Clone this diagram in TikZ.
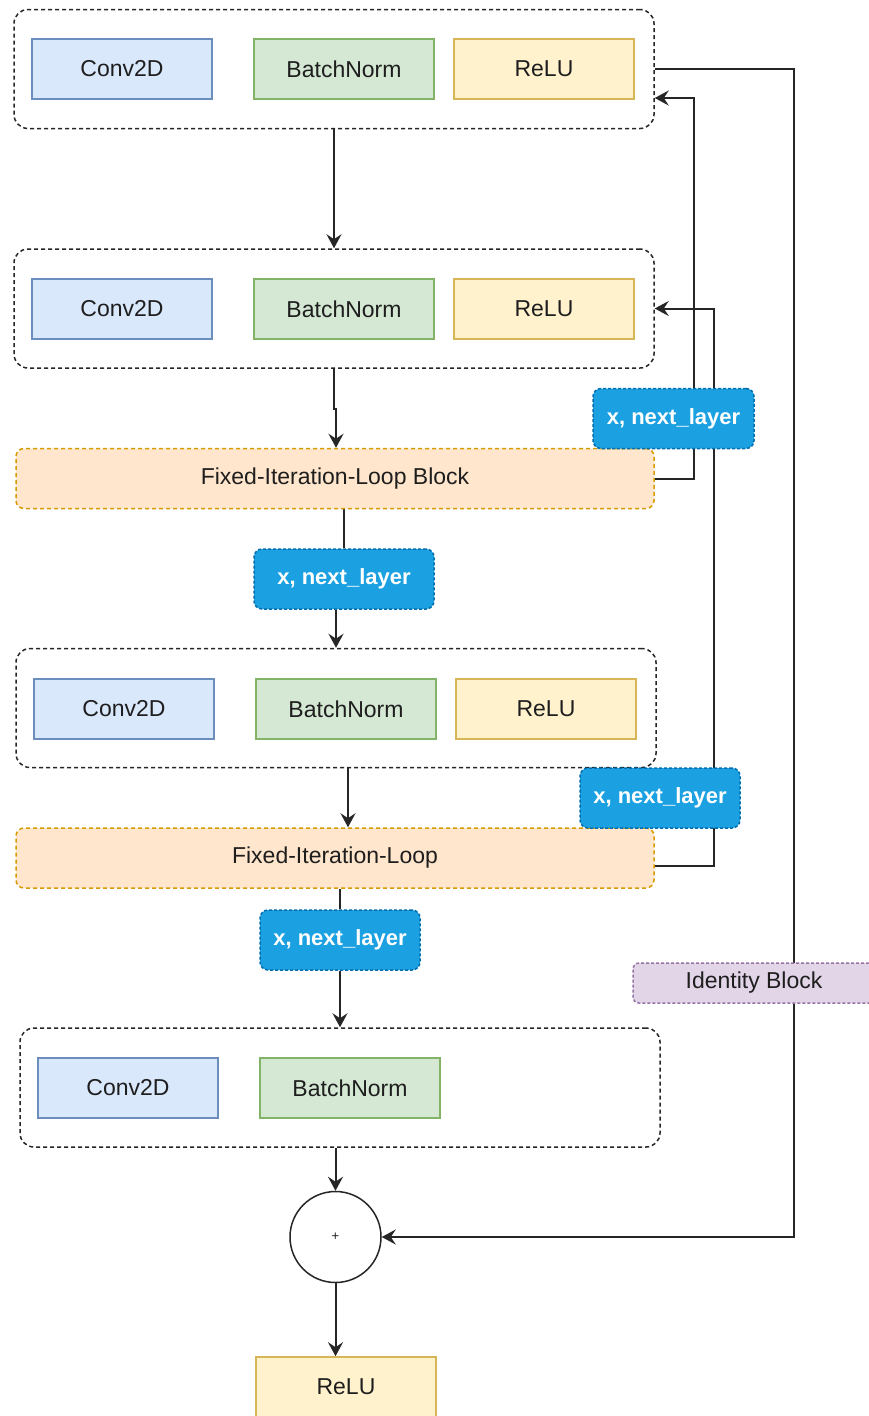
\documentclass[tikz,border=0pt]{standalone}
\usepackage{fontspec}
\setmainfont{Liberation Sans}
\usetikzlibrary{arrows.meta,calc}
\pgfdeclarelayer{bg}
\pgfdeclarelayer{paper}
\pgfsetlayers{paper,bg,main}
\definecolor{txt}{HTML}{1E1E1E}
\definecolor{convF}{HTML}{DAE8FC}\definecolor{convD}{HTML}{6C8EBF}
\definecolor{bnF}{HTML}{D5E8D4}\definecolor{bnD}{HTML}{82B366}
\definecolor{reF}{HTML}{FFF2CC}\definecolor{reD}{HTML}{D6B656}
\definecolor{filF}{HTML}{FFE6CC}\definecolor{filD}{HTML}{D79B00}
\definecolor{xnF}{HTML}{1BA1E2}\definecolor{xnD}{HTML}{006EAF}
\definecolor{idF}{HTML}{E1D5E7}\definecolor{idD}{HTML}{9673A6}
\tikzset{
  lay/.style={draw, line width=1.6pt, minimum width=180pt, minimum height=60pt, inner sep=0pt, font=\fontsize{23}{26}\selectfont, text=txt},
  conv/.style={lay, fill=convF, draw=convD},
  bn/.style={lay, fill=bnF, draw=bnD},
  relu/.style={lay, fill=reF, draw=reD},
  cont/.style={draw=black!85, line width=1.5pt, dash pattern=on 4pt off 3pt, rounded corners=14pt, minimum width=640pt, minimum height=119pt, inner sep=0pt},
  filbox/.style={draw=filD, fill=filF, line width=1.5pt, dash pattern=on 4pt off 3pt, rounded corners=8pt, minimum width=638pt, minimum height=60pt, inner sep=0pt, font=\fontsize{23}{26}\selectfont, text=txt},
  xn/.style={draw=xnD, fill=xnF, line width=1.5pt, dash pattern=on 3pt off 2pt, rounded corners=8pt, minimum height=60pt, inner sep=0pt, font=\bfseries\fontsize{22}{26}\selectfont, text=white},
  idbox/.style={draw=idD, fill=idF, line width=1.5pt, dash pattern=on 3pt off 2pt, rounded corners=6pt, minimum width=242pt, minimum height=40pt, inner sep=0pt, font=\fontsize{23}{26}\selectfont, text=txt},
  conn/.style={draw=black!85, line width=2pt},
  arr/.style={conn, -{Stealth[length=14pt,width=15pt,inset=5pt]}},
}
\begin{document}
\begin{tikzpicture}[x=1pt,y=-1pt]
\begin{pgfonlayer}{paper}
\fill[white] (0,0) rectangle (869,1416);
\end{pgfonlayer}
\useasboundingbox (0,0) rectangle (869,1416);
% block 1
\node[cont] (c1) at (334,69) {};
\node[conv] (cv1) at (122,69) {Conv2D};
\node[bn] (bn1) at (344,69) {BatchNorm};
\node[relu] (re1) at (544,69) {ReLU};
% block 2
\node[cont] (c2) at (334,308.5) {};
\node[conv] (cv2) at (122,309) {Conv2D};
\node[bn] (bn2) at (344,309) {BatchNorm};
\node[relu] (re2) at (544,309) {ReLU};
% loop 1
\node[filbox] (fil1) at (335,478.5) {Fixed-Iteration-Loop Block};
\node[xn, minimum width=161pt] (xn1) at (673.5,418.5) {x, next\_layer};
\node[xn, minimum width=180pt] (xn2) at (344,579) {x, next\_layer};
% block 3
\node[cont] (c3) at (336,708) {};
\node[conv] (cv3) at (124,709) {Conv2D};
\node[bn] (bn3) at (346,709) {BatchNorm};
\node[relu] (re3) at (546,709) {ReLU};
% loop 2
\node[filbox] (fil2) at (335,858) {Fixed-Iteration-Loop};
\node[xn, minimum width=160pt] (xn3) at (660,798) {x, next\_layer};
\node[xn, minimum width=160pt] (xn4) at (340,940) {x, next\_layer};
% identity
\node[idbox] (idb) at (754,983) {Identity Block};
% block 4
\node[cont] (c4) at (340,1087.5) {};
\node[conv] (cv4) at (128,1088) {Conv2D};
\node[bn] (bn4) at (350,1088) {BatchNorm};
% sum
\node[circle, draw=black!85, line width=1.5pt, minimum size=91pt, inner sep=0pt, font=\fontsize{13}{15}\selectfont, text=txt] (plus) at (335.5,1237) {+};
\node[relu] (re5) at (346,1387) {ReLU};
% connectors
\begin{pgfonlayer}{bg}
\draw[arr] (c1.south) -- (c2.north);
\draw[arr] (c2.south) -- ++(0,40) -| ([xshift=1pt]fil1.north);
\draw[arr] (fil1.east) -- ++(39,0) |- ([yshift=-29pt]c1.east);
\draw[conn] (xn2.north) -- (xn2.north |- fil1.south);
\draw[arr] (c3.north |- xn2.south) -- (c3.north);
\draw[arr] ([xshift=12pt]c3.south) -- ([xshift=12pt]c3.south |- fil2.north);
\draw[arr] ([yshift=-8pt]fil2.east) -- ++(59,0) |- (c2.east);
\draw[conn] (xn4.north) -- (xn4.north |- fil2.south);
\draw[arr] (xn4.south) -- (c4.north);
\draw[arr] (plus.north |- c4.south) -- (plus.north);
\draw[arr] (plus.south) -- (plus.south |- re5.north);
\draw[arr] (c1.east) -- ++(139,0) |- (plus.east);
\end{pgfonlayer}
\end{tikzpicture}
\end{document}
